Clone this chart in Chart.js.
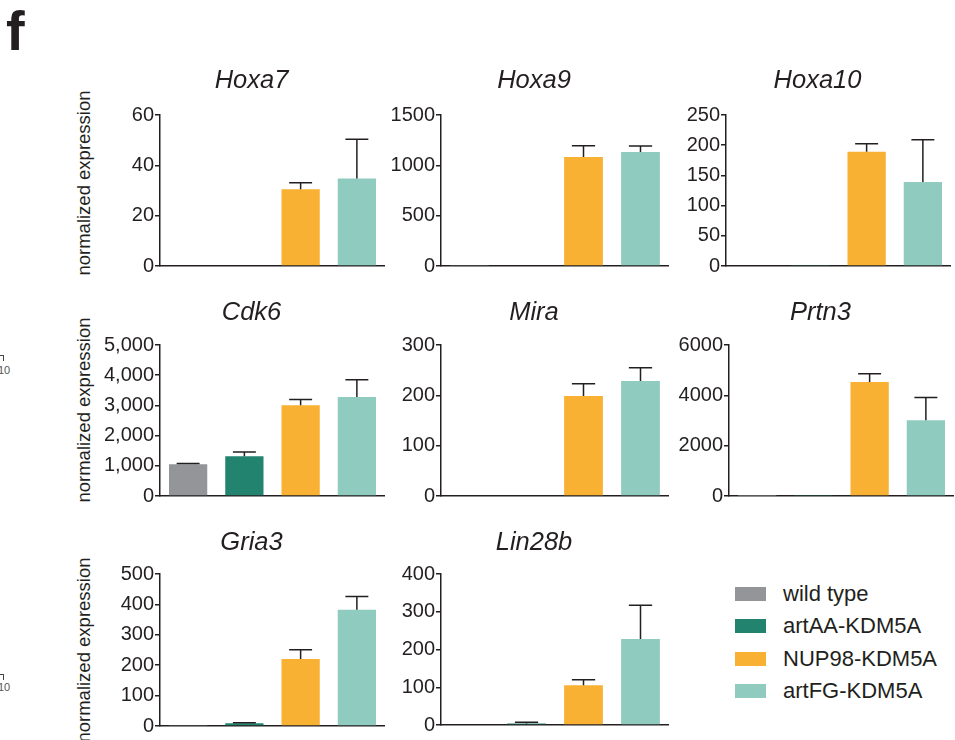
<!DOCTYPE html>
<html>
<head>
<meta charset="utf-8">
<script src="https://cdn.jsdelivr.net/npm/chart.js@4.4.1/dist/chart.umd.min.js"></script>
<style>
  html, body { margin: 0; padding: 0; background: #fff; }
  body { width: 955px; height: 740px; position: relative; overflow: hidden;
         font-family: Arial, "Liberation Sans", Helvetica, sans-serif; color: #231f20; }
  .panel { position: absolute; }
  .ylab { position: absolute; width: 200px; height: 22px; line-height: 22px; text-align: center;
          font-size: 18.5px; transform: rotate(-90deg); white-space: nowrap; }
  #letter { position: absolute; left: 6px; top: -2px; font-size: 56px; font-weight: bold; line-height: 66px; }
  .frag { position: absolute; left: -2px; font-size: 11px; line-height: 11px; color: #555; }
  .brk { position: absolute; left: -1px; width: 4px; height: 5px; border-top: 1px solid #444; border-right: 1px solid #444; }
  #legend { position: absolute; left: 735px; top: 578px; }
  .item { position: relative; height: 32.3px; display: flex; align-items: center; }
  .swatch { width: 31px; height: 14px; margin-right: 17px; }
  .item span { font-size: 22px; }
</style>
</head>
<body>
<div id="letter">f</div>
<div class="brk" style="top:355px"></div>
<div class="frag" style="top:365px">10</div>
<div class="brk" style="top:674px"></div>
<div class="frag" style="top:682px">10</div>

<div class="ylab" style="left:-16px; top:172px;">normalized expression</div>
<div class="ylab" style="left:-16px; top:399px;">normalized expression</div>
<div class="ylab" style="left:-16px; top:639px;">normalized expression</div>

<div id="legend"></div>

<script>
// genotypes shown in every panel
const genotypes = ['wild type', 'artAA-KDM5A', 'NUP98-KDM5A', 'artFG-KDM5A'];
const genotypeColors = ['#939598', '#22846f', '#f8b133', '#8fcbbf'];

// mean and upper error (SEM) per gene
const hoxa7Mean = [0, 0, 30.5, 34.8];
const hoxa7Err = [0, 0, 2.6, 15.6];
const hoxa7Ticks = [0, 20, 40, 60];
const hoxa7TickLabels = ['0', '20', '40', '60'];

const hoxa9Mean = [4, 0, 1082, 1132];
const hoxa9Err = [0, 0, 113, 60];
const hoxa9Ticks = [0, 500, 1000, 1500];
const hoxa9TickLabels = ['0', '500', '1000', '1500'];

const hoxa10Mean = [0, 1, 189, 139];
const hoxa10Err = [0, 0, 13.5, 70];
const hoxa10Ticks = [0, 50, 100, 150, 200, 250];
const hoxa10TickLabels = ['0', '50', '100', '150', '200', '250'];

const cdk6Mean = [1052, 1317, 3009, 3275];
const cdk6Err = [23, 143, 189, 574];
const cdk6Ticks = [0, 1000, 2000, 3000, 4000, 5000];
const cdk6TickLabels = ['0', '1,000', '2,000', '3,000', '4,000', '5,000'];

const miraMean = [0, 0, 198.5, 228.3];
const miraErr = [0, 0, 24.5, 26.5];
const miraTicks = [0, 100, 200, 300];
const miraTickLabels = ['0', '100', '200', '300'];

const prtn3Mean = [12, 15, 4527, 3014];
const prtn3Err = [0, 0, 331, 904];
const prtn3Ticks = [0, 2000, 4000, 6000];
const prtn3TickLabels = ['0', '2000', '4000', '6000'];

const gria3Mean = [2, 9, 220, 382];
const gria3Err = [0, 2, 31, 44];
const gria3Ticks = [0, 100, 200, 300, 400, 500];
const gria3TickLabels = ['0', '100', '200', '300', '400', '500'];

const lin28bMean = [0, 4, 105.6, 228];
const lin28bErr = [0, 3, 14.2, 89];
const lin28bTicks = [0, 100, 200, 300, 400];
const lin28bTickLabels = ['0', '100', '200', '300', '400'];

// layout: plot area box (left, right, top, bottom) and gap below the title
const panels = [
  { gene: 'Hoxa7', mean: hoxa7Mean, err: hoxa7Err, ticks: hoxa7Ticks, labels: hoxa7TickLabels, l: 160, r: 385, t: 115, b: 266, gap: 19 },
  { gene: 'Hoxa9', mean: hoxa9Mean, err: hoxa9Err, ticks: hoxa9Ticks, labels: hoxa9TickLabels, l: 441, r: 669, t: 115, b: 266, gap: 19 },
  { gene: 'Hoxa10', mean: hoxa10Mean, err: hoxa10Err, ticks: hoxa10Ticks, labels: hoxa10TickLabels, l: 726, r: 951, t: 115, b: 266, gap: 19 },
  { gene: 'Cdk6', mean: cdk6Mean, err: cdk6Err, ticks: cdk6Ticks, labels: cdk6TickLabels, l: 160, r: 385, t: 345, b: 496, gap: 17 },
  { gene: 'Mira', mean: miraMean, err: miraErr, ticks: miraTicks, labels: miraTickLabels, l: 441, r: 669, t: 345, b: 496, gap: 17 },
  { gene: 'Prtn3', mean: prtn3Mean, err: prtn3Err, ticks: prtn3Ticks, labels: prtn3TickLabels, l: 729, r: 954, t: 345, b: 496, gap: 17 },
  { gene: 'Gria3', mean: gria3Mean, err: gria3Err, ticks: gria3Ticks, labels: gria3TickLabels, l: 160, r: 385, t: 574, b: 726, gap: 16 },
  { gene: 'Lin28b', mean: lin28bMean, err: lin28bErr, ticks: lin28bTicks, labels: lin28bTickLabels, l: 441, r: 669, t: 574, b: 725, gap: 16 }
];

const FONT = 'Arial, "Liberation Sans", Helvetica, sans-serif';
const INK = '#231f20';
const AXIS_W = 42;   // y scale box width
const PAD_L = 30;
const PAD_B = 14;
const TITLE_H = 30;

// draws the upper error bar with a cap on each bar
const errorBars = {
  id: 'errorBars',
  afterLayout(chart) {
    // let wide tick labels use the padding left of the narrow y scale box
    chart.scales.y.left = 0;
  },
  afterDatasetsDraw(chart) {
    const ctx = chart.ctx;
    const ds = chart.data.datasets[0];
    const meta = chart.getDatasetMeta(0);
    const y = chart.scales.y;
    ctx.save();
    ctx.strokeStyle = INK;
    ctx.lineWidth = 1.5;
    meta.data.forEach(function (bar, i) {
      const e = ds.errors[i];
      if (!e) return;
      const top = y.getPixelForValue(ds.data[i] + e);
      const half = bar.width * 0.3;
      ctx.beginPath();
      ctx.moveTo(bar.x, bar.y);
      ctx.lineTo(bar.x, top);
      ctx.moveTo(bar.x - half, top);
      ctx.lineTo(bar.x + half, top);
      ctx.stroke();
    });
    ctx.restore();
  }
};

panels.forEach(function (p) {
  const plotW = p.r - p.l;
  const plotH = p.b - p.t;
  const w = PAD_L + AXIS_W + plotW;
  const h = TITLE_H + p.gap + plotH + PAD_B;

  const div = document.createElement('div');
  div.className = 'panel';
  div.style.left = (p.l - PAD_L - AXIS_W) + 'px';
  div.style.top = (p.t - TITLE_H - p.gap) + 'px';
  const canvas = document.createElement('canvas');
  canvas.width = w;
  canvas.height = h;
  canvas.style.width = w + 'px';
  canvas.style.height = h + 'px';
  div.appendChild(canvas);
  document.body.appendChild(div);

  new Chart(canvas, {
    type: 'bar',
    data: {
      labels: genotypes,
      datasets: [{
        data: p.mean,
        errors: p.err,
        backgroundColor: genotypeColors,
        borderWidth: 0,
        categoryPercentage: 1,
        barPercentage: 0.68
      }]
    },
    options: {
      responsive: false,
      animation: false,
      events: [],
      layout: { padding: { left: PAD_L, right: 0, top: 0, bottom: PAD_B } },
      plugins: {
        legend: { display: false },
        tooltip: { enabled: false },
        title: {
          display: true,
          text: p.gene,
          color: INK,
          font: { family: FONT, size: 25.5, style: 'italic', weight: 'normal', lineHeight: TITLE_H + 'px' },
          padding: { top: 0, bottom: p.gap }
        }
      },
      scales: {
        x: {
          grid: { display: false },
          ticks: { display: false },
          border: { display: true, color: INK, width: 1.5 },
          afterFit: function (s) { s.height = 0; }
        },
        y: {
          min: 0,
          max: p.ticks[p.ticks.length - 1],
          afterBuildTicks: function (s) { s.ticks = p.ticks.map(function (v) { return { value: v }; }); },
          afterFit: function (s) { s.width = AXIS_W; },
          grid: { drawOnChartArea: false, drawTicks: true, tickLength: 5, color: INK, lineWidth: 1.5 },
          border: { display: true, color: INK, width: 1.5 },
          ticks: {
            color: INK,
            padding: 1,
            font: { family: FONT, size: 20 },
            callback: function (v, i) { return p.labels[i]; }
          }
        }
      }
    },
    plugins: [errorBars]
  });
});

// legend
const legend = document.getElementById('legend');
genotypes.forEach(function (g, i) {
  const item = document.createElement('div');
  item.className = 'item';
  const sw = document.createElement('div');
  sw.className = 'swatch';
  sw.style.background = genotypeColors[i];
  const tx = document.createElement('span');
  tx.textContent = g;
  item.appendChild(sw);
  item.appendChild(tx);
  legend.appendChild(item);
});
</script>
</body>
</html>
